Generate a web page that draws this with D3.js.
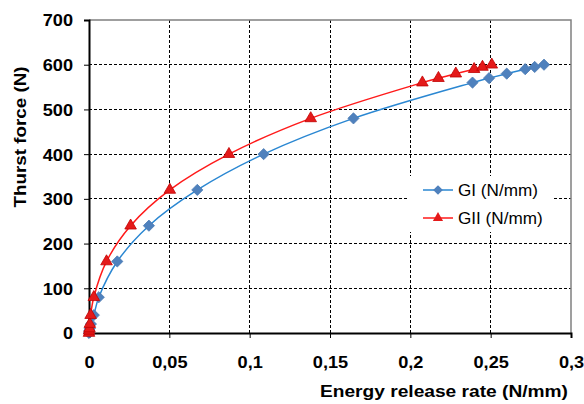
<!DOCTYPE html>
<html><head><meta charset="utf-8">
<script src="https://cdn.jsdelivr.net/npm/d3@7"></script>
<style>body{margin:0;background:#fff}svg{display:block;font-family:"Liberation Sans",Arial,sans-serif}</style>
</head><body><svg id="c" width="584" height="404"></svg>
<script>
const giX = [0, 0.0002, 0.0005, 0.0012, 0.003, 0.0061, 0.0176, 0.0373, 0.0674, 0.1087, 0.1646, 0.2387, 0.249, 0.260, 0.2715, 0.2774, 0.2832];
const giY = [0, 5, 10, 20, 40, 80, 160, 240, 320, 400, 480, 560, 570, 580, 590, 595, 600];
const giiX = [0, 0.0001, 0.0003, 0.0005, 0.001, 0.003, 0.0109, 0.0259, 0.0503, 0.0871, 0.138, 0.2075, 0.2175, 0.2283, 0.2397, 0.2449, 0.2507];
const giiY = [0, 5, 10, 20, 40, 80, 160, 240, 320, 400, 480, 560, 570, 580, 590, 595, 600];
const xTicks = [0, 0.05, 0.1, 0.15, 0.2, 0.25, 0.3];
const yTicks = [0, 100, 200, 300, 400, 500, 600, 700];
const seriesNames = ["GI (N/mm)", "GII (N/mm)"];
const xTitle = "Energy release rate (N/mm)";
const yTitle = "Thurst force (N)";

const svg = d3.select("#c");
const L = 89, R = 571, T = 20, B = 333;
const x = d3.scaleLinear().domain([0, 0.3]).range([L, R]);
const y = d3.scaleLinear().domain([0, 700]).range([B, T]);
const fmt = d => d === 0 ? "0" : String(d).replace(".", ",");
function stretch(sel, k) {
  sel.each(function () {
    const w = this.getComputedTextLength();
    d3.select(this).attr("textLength", w * k).attr("lengthAdjust", "spacingAndGlyphs");
  });
}

// gridlines
const g = svg.append("g");
g.selectAll("line.vg").data(xTicks.slice(1, -1)).join("line")
  .attr("x1", d => x(d)).attr("x2", d => x(d)).attr("y1", T).attr("y2", B)
  .attr("stroke", "#000").attr("stroke-width", 1).attr("stroke-dasharray", "3,2").attr("shape-rendering", "crispEdges");
g.selectAll("line.hg").data(yTicks.slice(1, -1)).join("line")
  .attr("x1", L).attr("x2", R).attr("y1", d => y(d)).attr("y2", d => y(d))
  .attr("stroke", "#000").attr("stroke-width", 1).attr("stroke-dasharray", "3,2").attr("shape-rendering", "crispEdges");
svg.append("path").attr("d", `M${L},${T}H${R}V${B}`).attr("fill", "none")
  .attr("stroke", "#808080").attr("stroke-width", 1.5);

// axes
const xAxis = svg.append("g").attr("transform", `translate(0,${B})`)
  .call(d3.axisBottom(x).tickValues(xTicks).tickFormat(fmt).tickSize(5).tickPadding(18));
const yAxis = svg.append("g").attr("transform", `translate(${L},0)`)
  .call(d3.axisLeft(y).tickValues(yTicks).tickFormat(fmt).tickSize(5).tickPadding(11));
[xAxis, yAxis].forEach(a => {
  a.select(".domain").attr("stroke", "#000").attr("stroke-width", 2);
  a.selectAll(".tick line").attr("stroke", "#000").attr("stroke-width", 1);
  a.selectAll(".tick text").attr("fill", "#000").attr("font-size", 16.5).attr("font-weight", "bold")
    .attr("font-family", "Liberation Sans, Arial, sans-serif");
  stretch(a.selectAll(".tick text"), 1.1);
});
yAxis.selectAll(".tick text").attr("dy", "0.36em");

// titles
svg.append("text").attr("x", 444).attr("y", 397).attr("text-anchor", "middle")
  .attr("font-size", 17).attr("font-weight", "bold").attr("textLength", 248)
  .attr("lengthAdjust", "spacingAndGlyphs").text(xTitle);
svg.append("text").attr("transform", "translate(26,137) rotate(-90)").attr("text-anchor", "middle")
  .attr("font-size", 17).attr("font-weight", "bold").attr("textLength", 141)
  .attr("lengthAdjust", "spacingAndGlyphs").text(yTitle);

// series
const gi = giX.map((d, i) => [d, giY[i]]);
const gii = giiX.map((d, i) => [d, giiY[i]]);
const line = d3.line().x(d => x(d[0])).y(d => y(d[1])).curve(d3.curveCatmullRom.alpha(0.5));

const sym = d3.symbol();
function drawSeries(data, lineColor, markFill, markStroke, type, size) {
  svg.append("path").attr("d", line(data)).attr("fill", "none").attr("stroke", lineColor).attr("stroke-width", 1.5);
  svg.append("g").selectAll("path").data(data).join("path")
    .attr("transform", d => `translate(${x(d[0])},${y(d[1])})`)
    .attr("d", sym.type(type).size(size)())
    .attr("fill", markFill).attr("stroke", markStroke).attr("stroke-width", 0.8);
}
drawSeries(gi, "#2a87d2", "#4f81bd", "#4a7ab3", d3.symbolDiamond2, 80);
drawSeries(gii, "#ff1a1a", "#e41a1a", "#c00000", d3.symbolTriangle, 58);

// legend
const lg = svg.append("g");
lg.append("rect").attr("x", 409).attr("y", 176).attr("width", 144).attr("height", 56).attr("fill", "#fff");
const items = [
  {name: seriesNames[0], color: "#2a87d2", fill: "#4f81bd", type: d3.symbolDiamond2, size: 60, y: 190},
  {name: seriesNames[1], color: "#ff1a1a", fill: "#e41a1a", type: d3.symbolTriangle, size: 45, y: 218}
];
items.forEach(it => {
  lg.append("line").attr("x1", 423).attr("x2", 453).attr("y1", it.y).attr("y2", it.y)
    .attr("stroke", it.color).attr("stroke-width", 1.5);
  lg.append("path").attr("transform", `translate(438,${it.y})`).attr("d", sym.type(it.type).size(it.size)())
    .attr("fill", it.fill);
  const t = lg.append("text").attr("x", 458).attr("y", it.y + 6).attr("font-size", 16).attr("fill", "#000").text(it.name);
  stretch(t, 1.07);
});
</script></body></html>
